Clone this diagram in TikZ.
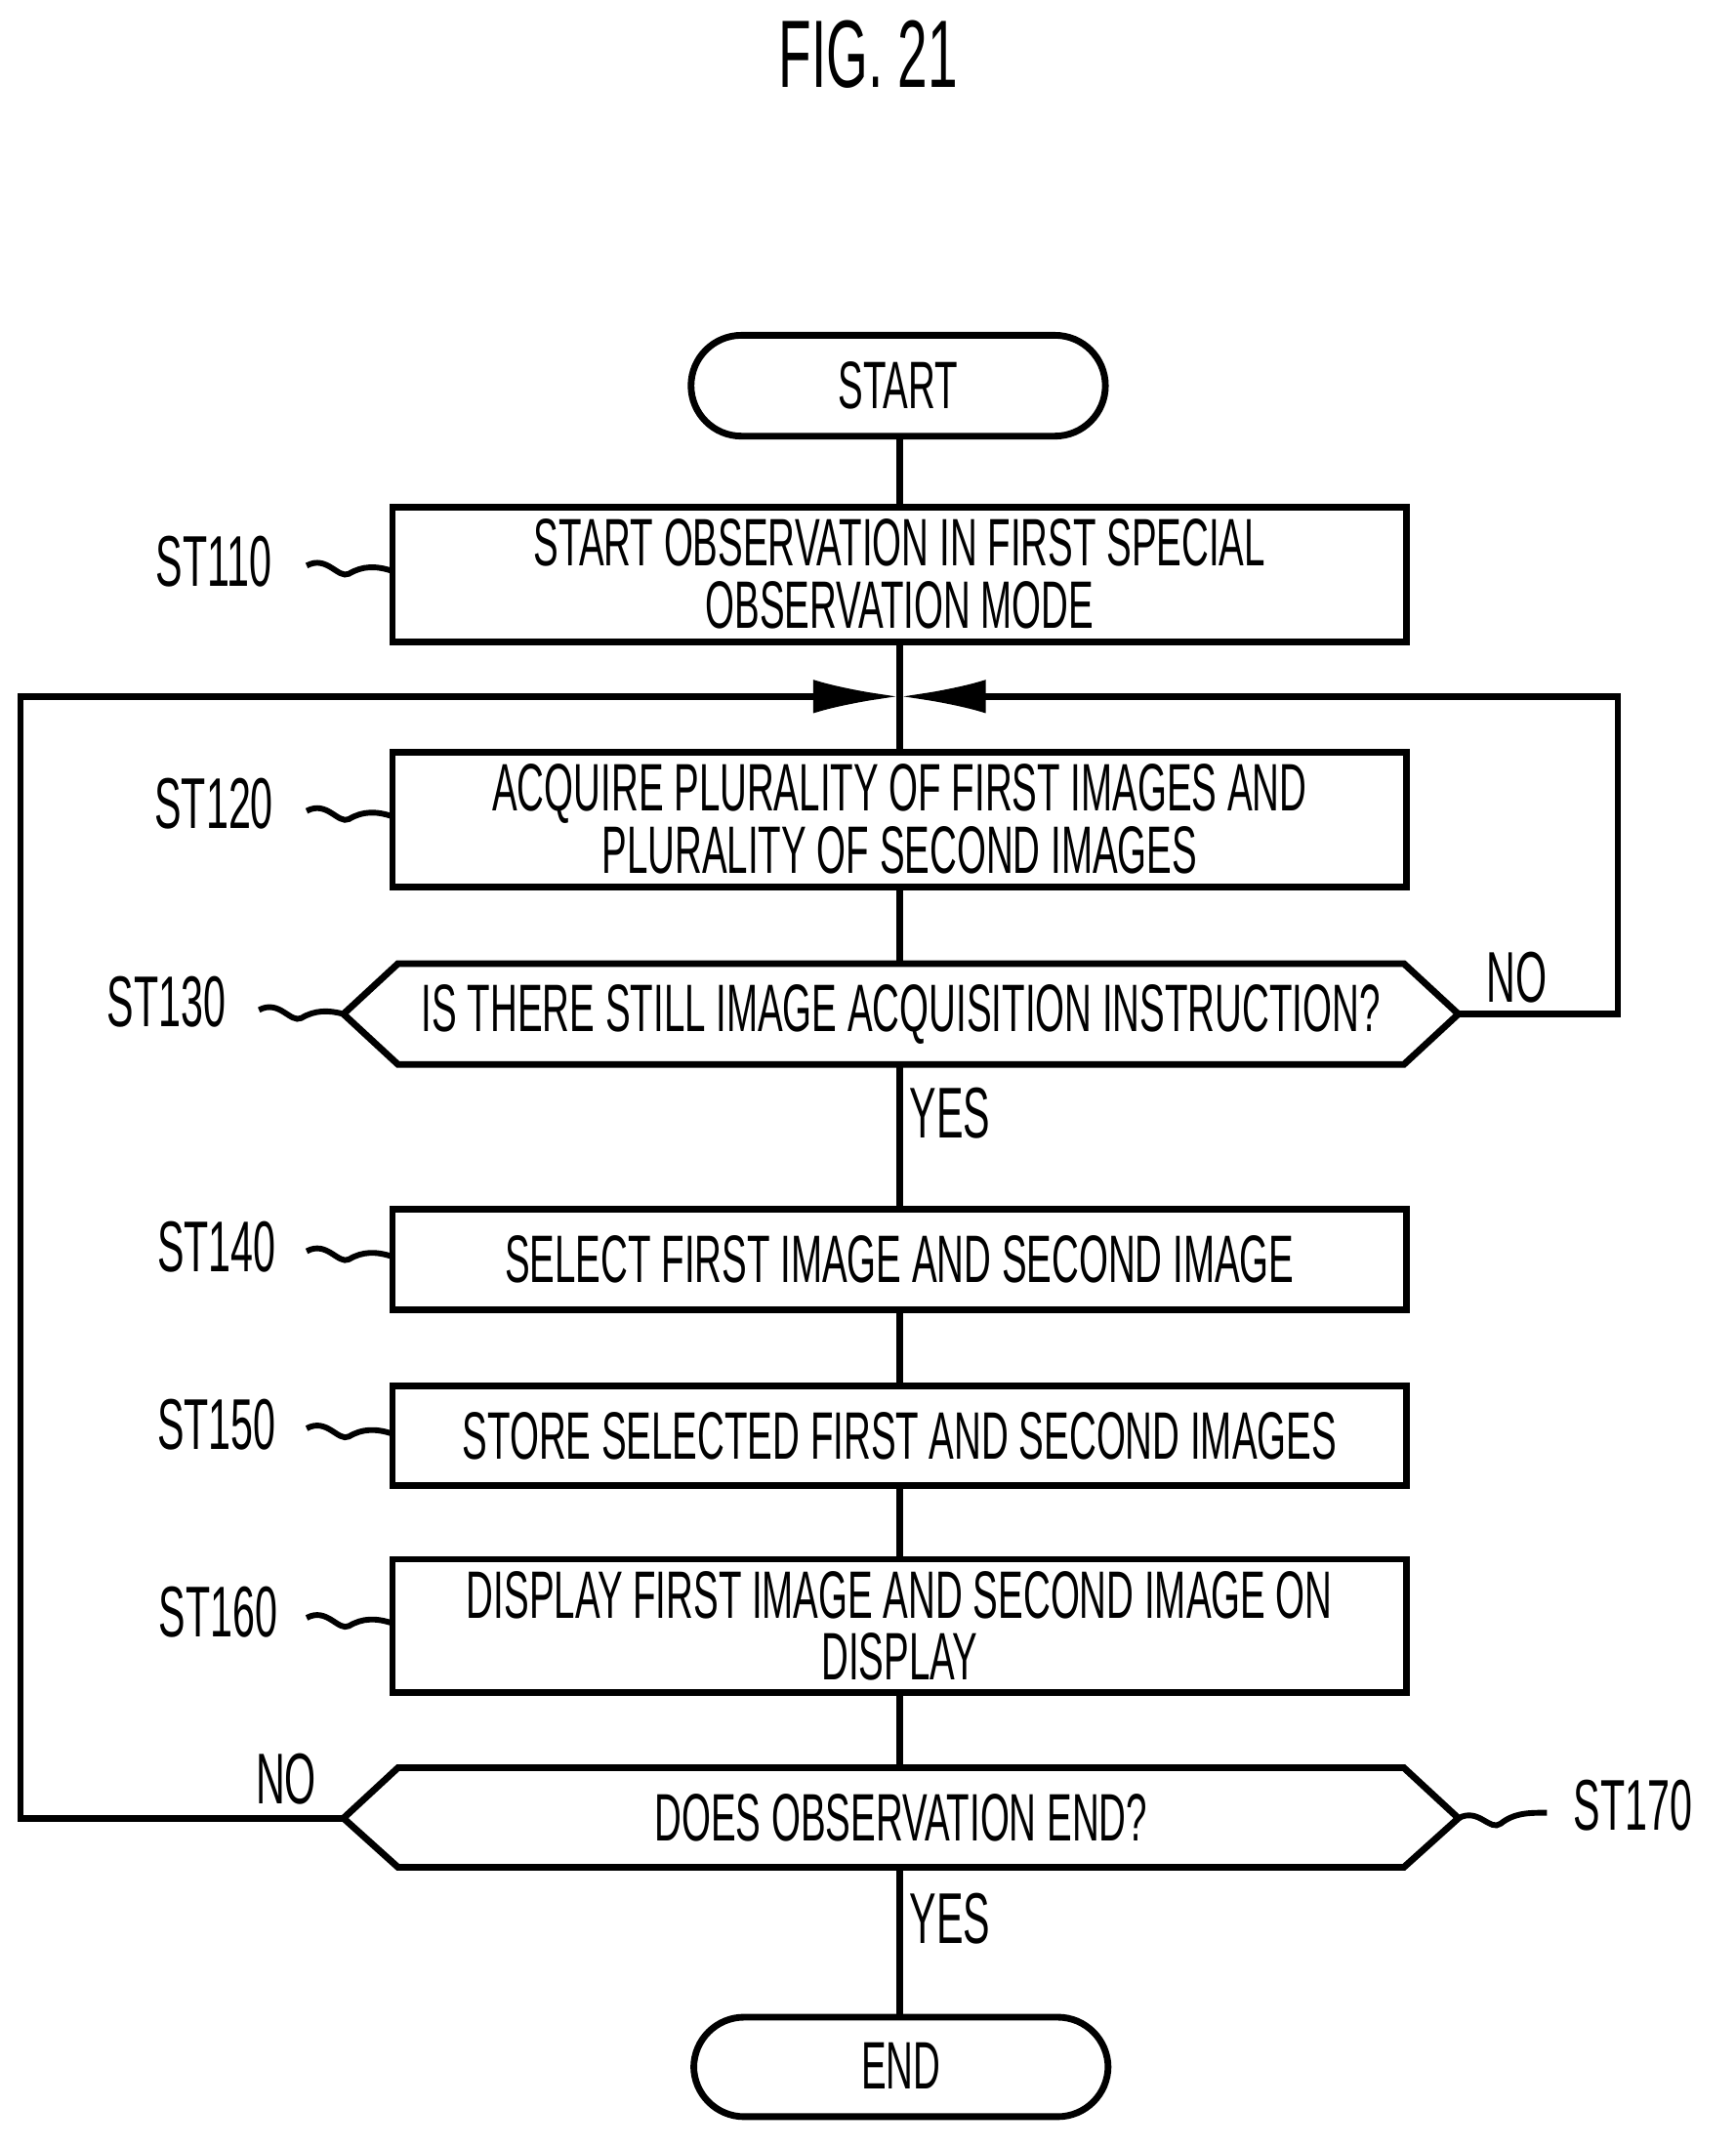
\documentclass[tikz,border=0pt]{standalone}
\usepackage{fontspec}
\setmainfont{Liberation Sans}[FakeStretch=0.56]
\usetikzlibrary{arrows.meta}
\begin{document}
\begin{tikzpicture}[x=0.01cm,y=-0.01cm,line width=1.4pt,
  txt/.style={font=\fontsize{14}{13}\selectfont,align=center},
  lbl/.style={font=\fontsize{15}{13}\selectfont},
  wav/.style={line width=1.2pt}]
\useasboundingbox (0,0) rectangle (1273,1576);
\node[font=\fontsize{20}{22}\selectfont] (title) at (637,40) {FIG. 21};
% start / end
\draw[rounded corners=0.37cm] (507,246) rectangle (811,320);
\node[txt] (start) at (659,283) {START};
\draw[rounded corners=0.37cm] (509,1480) rectangle (813,1553);
\node[txt] (end) at (661,1516) {END};
% boxes
\draw (288,372) rectangle (1032,471);
\node[txt] (b110) at (660,421) {START OBSERVATION IN FIRST SPECIAL\\OBSERVATION MODE};
\draw (288,552) rectangle (1032,651);
\node[txt] (b120) at (660,601) {ACQUIRE PLURALITY OF FIRST IMAGES AND\\PLURALITY OF SECOND IMAGES};
\draw (288,887) rectangle (1032,961);
\node[txt] (b140) at (660,924) {SELECT FIRST IMAGE AND SECOND IMAGE};
\draw (288,1017) rectangle (1032,1090);
\node[txt] (b150) at (660,1054) {STORE SELECTED FIRST AND SECOND IMAGES};
\draw (288,1144) rectangle (1032,1242);
\node[txt] (b160) at (660,1193) {DISPLAY FIRST IMAGE AND SECOND IMAGE ON\\DISPLAY};
% decisions
\draw (252,744) -- (292,707) -- (1030,707) -- (1070,744) -- (1030,781) -- (292,781) -- cycle;
\node[txt] (d130) at (661,744) {IS THERE STILL IMAGE ACQUISITION INSTRUCTION?};
\draw (252,1334) -- (292,1297) -- (1030,1297) -- (1070,1334) -- (1030,1370) -- (292,1370) -- cycle;
\node[txt] (d170) at (661,1334) {DOES OBSERVATION END?};
% connectors
\coordinate (m) at (660,511);
\draw (660,320) -- (660,372);
\draw (660,471) -- (660,552);
\draw (660,651) -- (660,707);
\draw (660,781) -- (660,887);
\draw (660,961) -- (660,1017);
\draw (660,1090) -- (660,1144);
\draw (660,1242) -- (660,1297);
\draw (660,1370) -- (660,1480);
\draw[-{Latex[length=18pt,width=7pt]}] (1070,744) -- (1187,744) -- (1187,511) -- (m);
\draw[-{Latex[length=18pt,width=7pt]}] (252,1334) -- (15,1334) -- (15,511) -- (m);
\node[lbl] (no1) at (1113,717) {NO};
\node[lbl] (yes1) at (697,817) {YES};
\node[lbl] (no2) at (210,1305) {NO};
\node[lbl] (yes2) at (697,1408) {YES};
% step labels
\node[lbl] (s110) at (157,412) {ST110};
\node[lbl] (s120) at (157,590) {ST120};
\node[lbl] (s130) at (122,735) {ST130};
\node[lbl] (s140) at (159,915) {ST140};
\node[lbl] (s150) at (159,1045) {ST150};
\node[lbl] (s160) at (160,1183) {ST160};
\node[lbl] (s170) at (1198,1325) {ST170};
\foreach \y in {421,601,924,1054,1193} {
  \draw[wav] (225,\y-6) .. controls (240,\y-14) and (248,\y+4) .. (256,\y) .. controls (266,\y-6) and (276,\y-6) .. (288,\y-2);
}
\draw[wav] (190,741) .. controls (205,733) and (213,751) .. (221,747) .. controls (231,741) and (241,741) .. (252,744);
\draw[wav] (1070,1334) .. controls (1085,1326) and (1093,1344) .. (1101,1338) .. controls (1111,1330) and (1122,1330) .. (1135,1330);
\end{tikzpicture}
\end{document}
